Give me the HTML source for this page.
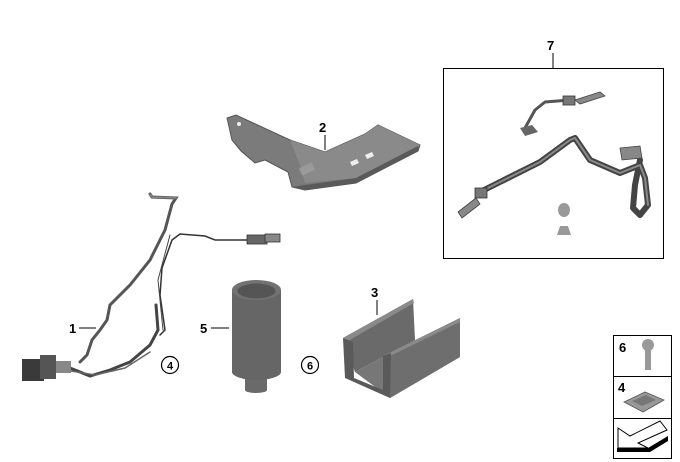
<!DOCTYPE html>
<html><head><meta charset="utf-8"><style>
html,body{margin:0;padding:0;background:#fff;}
svg{display:block;}
text{font-family:"Liberation Sans",Arial,sans-serif;font-weight:bold;fill:#000;}
</style></head><body>
<svg width="680" height="462" viewBox="0 0 680 462" xmlns="http://www.w3.org/2000/svg">
<!-- Bracket 2 -->
<polygon points="227,118 236,115 290,140 325,152 365,134 378,125 420,145 418,151 356,183 305,190 292,187 288,172 265,160 255,163 241,151 232,140" fill="#7b7b7b" stroke="#555" stroke-width="1"/>
<polygon points="290,140 325,152 365,134 378,125 420,145 356,178 305,183 300,165" fill="#8a8a8a"/>
<polygon points="292,187 305,190 356,183 418,151 418,146 356,178 305,185" fill="#5a5a5a"/>
<rect x="300" y="165" width="14" height="8" fill="#9a9a9a" transform="rotate(-25 307 169)"/>
<polygon points="350,162 357,159 359,163 352,166" fill="#eee"/>
<polygon points="365,155 372,152 374,156 367,159" fill="#eee"/>
<circle cx="239" cy="124" r="2" fill="#eee"/>
<text x="319" y="132" font-size="13">2</text>
<line x1="325" y1="135" x2="325" y2="150" stroke="#000" stroke-width="1"/>

<!-- Cable 1 -->
<g fill="none" stroke-linecap="round">
<path d="M150,194 L152,197 L176,198 L172,204 L165,230 L150,260 L130,285 L110,305 L107,320 L100,330 L92,340 L87,355 L80,362" stroke="#555" stroke-width="3"/>
<path d="M150,194 L152,197 L176,198" stroke="#888" stroke-width="1.5"/>
<path d="M275,238 L260,240 L245,240 L215,240 L205,236 L180,234 L172,240 L162,268 L160,295 L165,330 L160,335" stroke="#333" stroke-width="1.5"/>
<path d="M170,235 L158,280 L163,330" stroke="#444" stroke-width="1"/>
<path d="M65,366 L90,376 L110,370 L130,362 L150,345 L158,330 L156,305" stroke="#444" stroke-width="3"/>
<path d="M65,370 L95,375 L125,368 L150,352" stroke="#666" stroke-width="1.5"/>
</g>
<rect x="247" y="235" width="20" height="9" fill="#666" stroke="#333" stroke-width="0.8"/>
<rect x="265" y="234" width="15" height="8" fill="#888" stroke="#333" stroke-width="0.8"/>
<rect x="22" y="359" width="22" height="22" fill="#3a3a3a"/>
<rect x="40" y="355" width="16" height="24" fill="#555"/>
<rect x="56" y="361" width="15" height="12" fill="#888"/>
<text x="69" y="333" font-size="13">1</text>
<line x1="79" y1="328" x2="96" y2="328" stroke="#000" stroke-width="1"/>

<!-- circles -->
<circle cx="170" cy="365" r="8.5" fill="#fff" stroke="#000" stroke-width="1.2"/>
<text x="170" y="369.5" font-size="11" text-anchor="middle">4</text>
<circle cx="310" cy="365" r="8.5" fill="#fff" stroke="#000" stroke-width="1.2"/>
<text x="310" y="369.5" font-size="11" text-anchor="middle">6</text>

<!-- Part 5 -->
<rect x="245" y="370" width="22" height="20" fill="#6a6a6a"/>
<ellipse cx="256" cy="390" rx="11" ry="3" fill="#6a6a6a"/>
<rect x="232" y="290" width="49" height="82" fill="#666"/>
<ellipse cx="256.5" cy="372" rx="24.5" ry="8" fill="#666"/>
<ellipse cx="256.5" cy="290" rx="24.5" ry="10" fill="#727272"/>
<ellipse cx="256.5" cy="291" rx="19" ry="7.5" fill="#555"/>
<text x="200" y="333" font-size="13">5</text>
<line x1="211" y1="328" x2="229" y2="328" stroke="#000" stroke-width="1"/>

<!-- Part 3 -->
<polygon points="343,338 413,299 415,340 355,372" fill="#6a6a6a"/>
<polygon points="343,338 413,299 414,303 348,341" fill="#8a8a8a"/>
<polygon points="355,372 415,340 460,340 460,357 390,398" fill="#777"/>
<polygon points="383,356 460,318 460,357 390,398 384,390" fill="#6e6e6e"/>
<polygon points="383,356 460,318 460,322 386,358" fill="#8a8a8a"/>
<polygon points="343,338 353,342 354,378 383,390 383,356 391,353 390,398 345,378" fill="#5a5a5a"/>
<text x="371" y="297" font-size="13">3</text>
<line x1="377" y1="300" x2="377" y2="315" stroke="#000" stroke-width="1"/>

<!-- Box 7 -->
<text x="547" y="50" font-size="13">7</text>
<line x1="553" y1="53" x2="553" y2="68" stroke="#000" stroke-width="1"/>
<rect x="443.5" y="68.5" width="220" height="190" fill="none" stroke="#000" stroke-width="1"/>
<g fill="none" stroke-linecap="round" stroke-linejoin="round">
<path d="M480,192 L500,182 L540,162 L570,140 L575,138 L590,160 L620,173 L640,165 L645,178 L648,205 L640,215 L633,208 L635,185 L640,160" stroke="#444" stroke-width="6"/>
<path d="M480,192 L500,182 L540,162 L570,140 L575,138 L590,160 L620,173 L640,165 L645,178 L648,205" stroke="#8a8a8a" stroke-width="2"/>
<path d="M525,128 L535,110 L545,102 L570,100" stroke="#555" stroke-width="3"/>
</g>
<rect x="563" y="96" width="12" height="9" fill="#777" stroke="#333" stroke-width="0.8"/>
<path d="M575,100 L600,92 L605,96 L580,104 Z" fill="#888" stroke="#444" stroke-width="0.8"/>
<path d="M520,128 L532,125 L538,132 L525,136 Z" fill="#666"/>
<rect x="475" y="188" width="12" height="10" fill="#777" stroke="#333" stroke-width="0.8"/>
<path d="M476,198 L458,212 L462,218 L480,204 Z" fill="#888" stroke="#444" stroke-width="0.8"/>
<path d="M620,148 L640,146 L642,158 L622,160 Z" fill="#888" stroke="#444" stroke-width="0.8"/>
<ellipse cx="564" cy="210" rx="6" ry="7" fill="#999"/>
<path d="M557,235 L560,226 L568,226 L571,235 Z" fill="#999"/>

<!-- legend -->
<rect x="613.5" y="335.5" width="58" height="123" fill="#fff" stroke="#000" stroke-width="1"/>
<line x1="613.5" y1="376.5" x2="671.5" y2="376.5" stroke="#000"/>
<line x1="613.5" y1="418.5" x2="671.5" y2="418.5" stroke="#000"/>
<text x="619" y="352" font-size="13">6</text>
<circle cx="648" cy="345" r="6" fill="#999"/>
<rect x="645" y="350" width="6" height="20" fill="#999"/>
<text x="618" y="392" font-size="13">4</text>
<polygon points="624,402 645,392 664,400 643,412" fill="#999" stroke="#555" stroke-width="0.8"/>
<polygon points="632,401 646,395 656,400 642,406" fill="#777"/>
<polygon points="648,448 668,436 668,441 650,452 617,452 617,448" fill="#000"/>
<path d="M618,428 L630,436 L660,421 L667,430 L638,443 L648,448 L618,448 Z" fill="#fff" stroke="#000" stroke-width="1"/>
</svg>
</body></html>
